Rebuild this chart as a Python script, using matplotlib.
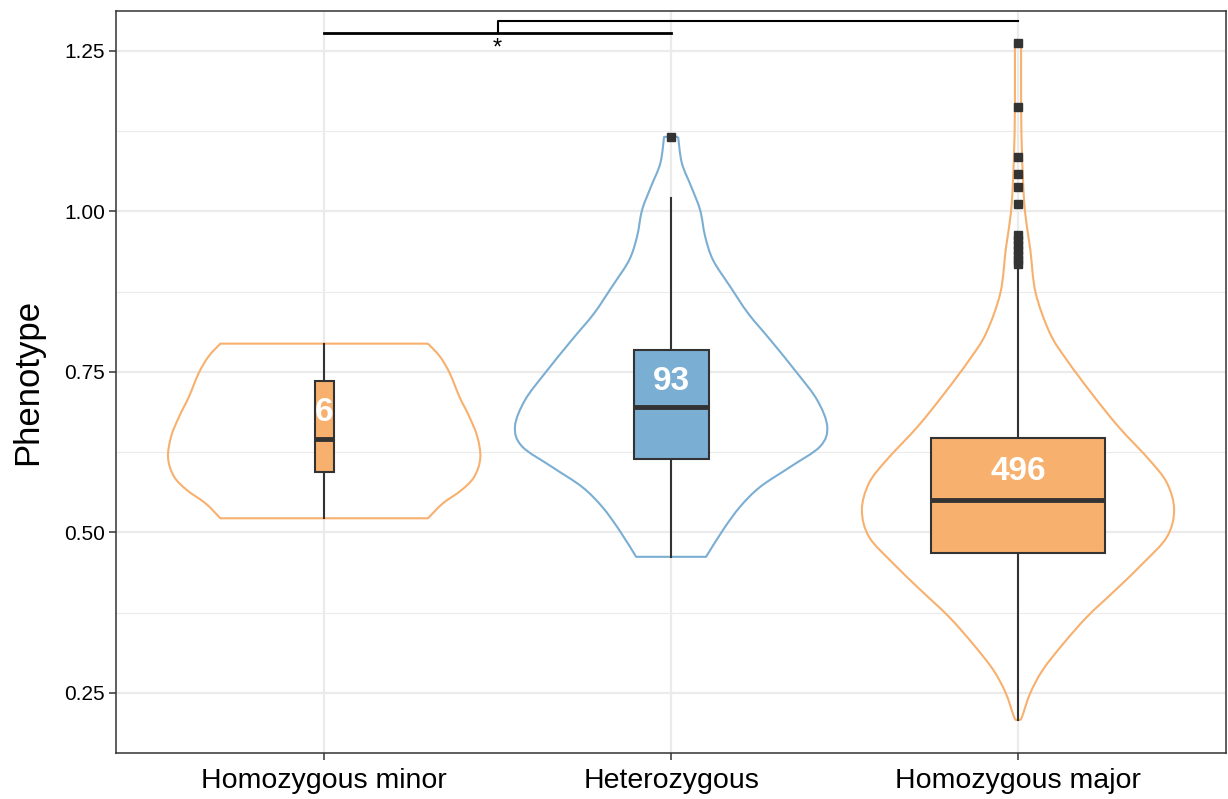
import matplotlib
matplotlib.use("Agg")
import matplotlib.pyplot as plt
from matplotlib.path import Path
from matplotlib.patches import PathPatch
import numpy as np

plt.rcParams['font.family'] = ['Liberation Sans', 'DejaVu Sans']

# genotype groups
groups = ["Homozygous minor", "Heterozygous", "Homozygous major"]
counts = [6, 93, 496]

# box summaries per group
q1 = [0.594, 0.6145, 0.468]
med = [0.646, 0.6955, 0.551]
q3 = [0.736, 0.784, 0.647]
whis_lo = [0.522, 0.462, 0.208]
whis_hi = [0.794, 1.021, 0.912]
fliers = [
    [],
    [1.116],
    [1.262, 1.163, 1.085, 1.058, 1.038, 1.012,
     0.963, 0.955, 0.948, 0.940, 0.932, 0.925, 0.918],
]

# violin density profiles (value, relative width)
minor_y = [0.794, 0.774, 0.748, 0.711, 0.680, 0.649, 0.616, 0.587, 0.566, 0.545, 0.522]
minor_w = [0.665, 0.741, 0.804, 0.867, 0.930, 0.981, 1.0, 0.962, 0.880, 0.759, 0.665]

het_y = [1.116, 1.075, 1.039, 1.002, 0.961, 0.924, 0.883, 0.841, 0.800, 0.748,
         0.706, 0.665, 0.634, 0.602, 0.571, 0.540, 0.504, 0.462]
het_w = [0.045, 0.069, 0.128, 0.186, 0.218, 0.269, 0.378, 0.494, 0.635, 0.808,
         0.936, 1.0, 0.955, 0.763, 0.571, 0.442, 0.333, 0.224]

major_y = [1.262, 1.163, 1.085, 1.013, 0.971, 0.940, 0.873, 0.810, 0.769, 0.717,
           0.665, 0.613, 0.577, 0.535, 0.493, 0.452, 0.410, 0.369, 0.327, 0.286,
           0.250, 0.213, 0.208]
major_w = [0.020, 0.020, 0.026, 0.040, 0.060, 0.079, 0.113, 0.205, 0.311, 0.470,
           0.642, 0.841, 0.954, 1.0, 0.954, 0.801, 0.623, 0.444, 0.291, 0.159,
           0.079, 0.026, 0.013]

violins = [(minor_y, minor_w), (het_y, het_w), (major_y, major_w)]

orange = "#f7b06e"
blue = "#7aaed3"
colors = [orange, blue, orange]
dark = "#333333"


def smooth_side(pts):
    # Catmull-Rom through the points, as cubic bezier segments
    pts = np.asarray(pts)
    ext = np.vstack([pts[0], pts, pts[-1]])
    verts, codes = [], []
    for i in range(1, len(ext) - 2):
        p0, p1, p2, p3 = ext[i - 1], ext[i], ext[i + 1], ext[i + 2]
        verts += [p1 + (p2 - p0) / 6, p2 - (p3 - p1) / 6, p2]
        codes += [Path.CURVE4] * 3
    return verts, codes


def violin_path(p, vy, vw, half=0.45):
    vy = np.asarray(vy)
    hw = half * np.asarray(vw)
    right = np.column_stack([p + hw, vy])
    left = np.column_stack([p - hw, vy])[::-1]
    verts, codes = [right[0]], [Path.MOVETO]
    v, c = smooth_side(right)
    verts += v; codes += c
    verts.append(left[0]); codes.append(Path.LINETO)
    v, c = smooth_side(left)
    verts += v; codes += c
    verts.append(right[0]); codes.append(Path.LINETO)
    return Path(np.array(verts), codes)


fig = plt.figure(figsize=(12.28, 7.99), dpi=100)
ax = fig.add_axes([0.0945, 0.0576, 0.904, 0.9286])

pos = np.arange(1, len(groups) + 1)

# violin outlines
for p, (vy, vw), c in zip(pos, violins, colors):
    ax.add_patch(PathPatch(violin_path(p, vy, vw), facecolor="none", edgecolor=c,
                           lw=1.5, zorder=2, joinstyle='round'))

# boxplots, width scaled by sqrt(n)
stats = []
for i in range(len(groups)):
    stats.append(dict(med=med[i], q1=q1[i], q3=q3[i], whislo=whis_lo[i],
                      whishi=whis_hi[i], fliers=fliers[i]))
widths = [0.5 * np.sqrt(n / max(counts)) for n in counts]
bp = ax.bxp(stats, positions=pos, widths=widths, patch_artist=True,
            showcaps=False, manage_ticks=False,
            boxprops=dict(edgecolor=dark, linewidth=1.5),
            whiskerprops=dict(color=dark, linewidth=1.5),
            medianprops=dict(color=dark, linewidth=3.5, solid_capstyle='butt'),
            flierprops=dict(marker='s', markerfacecolor=dark, markeredgecolor=dark,
                            markersize=5.5))
for patch, c in zip(bp['boxes'], colors):
    patch.set_facecolor(c)
    patch.set_zorder(3)
for k in ('whiskers', 'medians', 'fliers'):
    for art in bp[k]:
        art.set_zorder(4 if k != 'whiskers' else 2.5)

# group sizes inside boxes
for p, n, m, u in zip(pos, counts, med, q3):
    ax.text(p, (m + u) / 2 - 0.004, str(n), color="white", fontsize=24,
            fontweight="bold", ha="center", va="center", zorder=5)

# significance brackets
ax.plot([1, 2], [1.278, 1.278], color="black", lw=2, clip_on=False, zorder=5)
ax.plot([1.5, 1.5, 3], [1.278, 1.297, 1.297], color="black", lw=1.5,
        clip_on=False, zorder=5)
ax.text(1.5, 1.253, "*", ha="center", va="center", fontsize=17, color="black")

ax.set_xlim(0.4, 3.6)
ax.set_ylim(0.1565, 1.312)
ax.set_xticks(pos)
ax.set_xticklabels(groups, fontsize=20.5)
ax.set_yticks([0.25, 0.5, 0.75, 1.0, 1.25])
ax.set_yticklabels(["0.25", "0.50", "0.75", "1.00", "1.25"], fontsize=15)
ax.set_yticks([0.375, 0.625, 0.875, 1.125], minor=True)
ax.tick_params(axis='y', which='minor', length=0)
ax.tick_params(which='major', length=5, width=1.1, color=dark, pad=3)
ax.tick_params(axis='x', which='major', pad=6)
ax.set_ylabel("Phenotype", fontsize=25, labelpad=14)

ax.grid(True, which='major', color="#ebebeb", lw=1.6, zorder=0)
ax.grid(True, which='minor', axis='y', color="#ebebeb", lw=0.8, zorder=0)
ax.set_axisbelow(True)
for s in ax.spines.values():
    s.set_color(dark)
    s.set_linewidth(1.1)

fig.savefig("out.png", dpi=100)
